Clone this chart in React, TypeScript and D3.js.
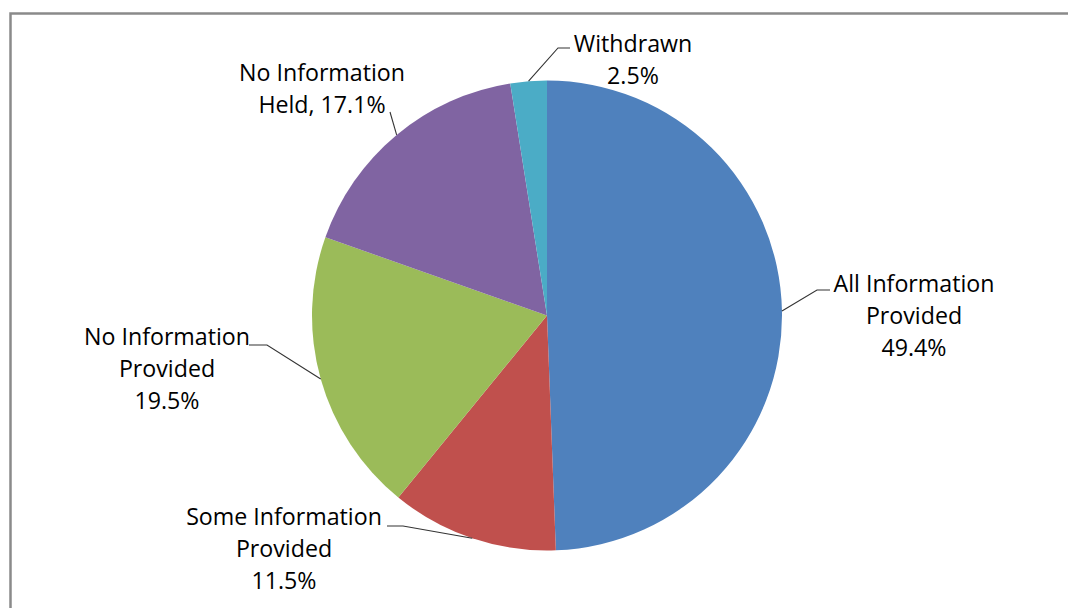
import React from "react";
import * as d3 from "d3";

const categories = [
  "All Information Provided",
  "Some Information Provided",
  "No Information Provided",
  "No Information Held",
  "Withdrawn",
];
const values = [49.4, 11.5, 19.5, 17.1, 2.5];
const colors = ["#4F81BD", "#C0504D", "#9BBB59", "#8064A2", "#4BACC6"];
const labelLines = [
  ["All Information", "Provided", "49.4%"],
  ["Some Information", "Provided", "11.5%"],
  ["No Information", "Provided", "19.5%"],
  ["No Information", "Held, 17.1%"],
  ["Withdrawn", "2.5%"],
];

// layout of labels: text centre x, first baseline y, leader elbow points
const labelLayout = [
  { x: 914, y: 292, elbow: [[817, 290], [830, 290]] },
  { x: 284, y: 525, elbow: [[403, 526], [387, 526]] },
  { x: 167, y: 345, elbow: [[267, 345], [249, 345]] },
  { x: 322, y: 81, elbow: [[390, 112]] },
  { x: 633, y: 52, elbow: [[558, 48], [570, 48]] },
];

const W = 1068;
const H = 608;
const cx = 547;
const cy = 315.5;
const R = 235;
const lineGap = 32;

export default function App() {
  const pie = d3
    .pie<number>()
    .sort(null)
    .value((d) => d);
  const arcs = pie(values);
  const arc = d3.arc<d3.PieArcDatum<number>>().innerRadius(0).outerRadius(R);
  const line = d3.line();

  return (
    <svg
      width={W}
      height={H}
      style={{ position: "absolute", left: 0, top: 0, display: "block" }}
      fontFamily="'Open Sans', sans-serif"
    >
      <rect x={0} y={0} width={W} height={H} fill="#fff" />
      <rect
        x={10.5}
        y={13.5}
        width={W + 20}
        height={H + 20}
        fill="#fff"
        stroke="#8a8a8a"
        strokeWidth={2.5}
      />
      <g transform={`translate(${cx},${cy})`}>
        {arcs.map((a, i) => (
          <path key={categories[i]} d={arc(a) || ""} fill={colors[i]} />
        ))}
      </g>
      {arcs.map((a, i) => {
        const mid = (a.startAngle + a.endAngle) / 2;
        const p0: [number, number] = [cx + R * Math.sin(mid), cy - R * Math.cos(mid)];
        const pts = [p0, ...(labelLayout[i].elbow as [number, number][])];
        return (
          <path
            key={"l" + i}
            d={line(pts) || ""}
            fill="none"
            stroke="#333"
            strokeWidth={1.1}
          />
        );
      })}
      {labelLines.map((lines, i) => (
        <text
          key={"t" + i}
          textAnchor="middle"
          fontSize={23.2}
          fill="#000"
        >
          {lines.map((s, j) => (
            <tspan key={j} x={labelLayout[i].x} y={labelLayout[i].y + j * lineGap}>
              {s}
            </tspan>
          ))}
        </text>
      ))}
    </svg>
  );
}
